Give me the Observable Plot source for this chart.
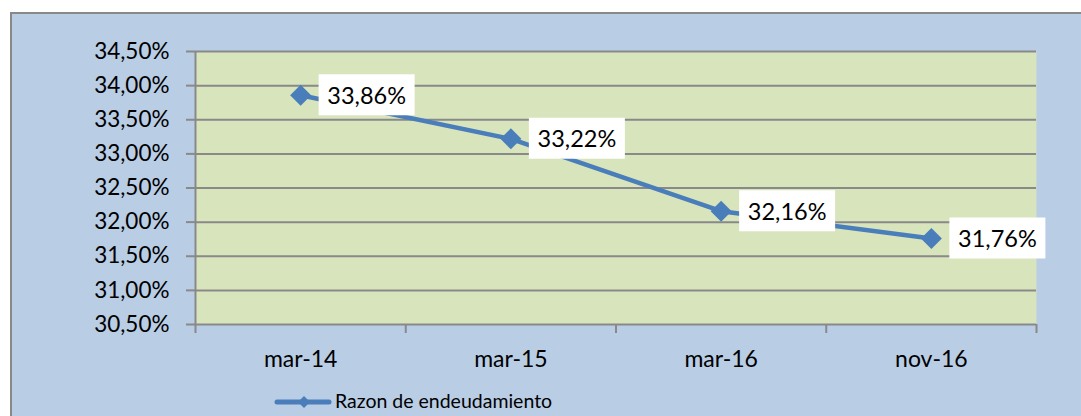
<!DOCTYPE html>
<html>
<head>
<meta charset="utf-8">
<script src="https://cdn.jsdelivr.net/npm/d3@7"></script>
<script src="https://cdn.jsdelivr.net/npm/@observablehq/plot@0.6"></script>
<style>
  html, body { margin: 0; padding: 0; background: #ffffff; width: 1081px; height: 416px; overflow: hidden; }
  #panel { position: absolute; left: 10px; top: 12px; width: 1090px; height: 430px; background: #B9CDE5; border: 2px solid #898989; box-sizing: border-box; }
  #chart { position: absolute; left: 0; top: 0; }
  #legend { position: absolute; left: 0; top: 0; }
</style>
</head>
<body>
<div id="panel"></div>
<div id="chart"></div>
<svg id="legend" width="1081" height="416">
  <line x1="277" x2="329" y1="402" y2="402" stroke="#4A7EBB" stroke-width="5" stroke-linecap="round"></line>
  <path d="M304,396 L310,402 L304,408 L298,402 Z" fill="#4A7EBB"></path>
  <text x="335" y="408" font-family="Lato" font-size="19.5" fill="#000">Razon de endeudamiento</text>
</svg>
<script>
const categories = ["mar-14", "mar-15", "mar-16", "nov-16"];
const values = [33.86, 33.22, 32.16, 31.76];
const valueLabels = ["33,86%", "33,22%", "32,16%", "31,76%"];
const yTicks = [30.5, 31.0, 31.5, 32.0, 32.5, 33.0, 33.5, 34.0, 34.5];
const yTickLabels = ["30,50%", "31,00%", "31,50%", "32,00%", "32,50%", "33,00%", "33,50%", "34,00%", "34,50%"];

const gray = "#898989";
const blue = "#4A7EBB";
const pos = (d, i) => i + 0.5;

const diamond = { draw(ctx) { const h = 10.5; ctx.moveTo(0, -h); ctx.lineTo(h, 0); ctx.lineTo(0, h); ctx.lineTo(-h, 0); ctx.closePath(); } };
const labelBox = { draw(ctx) { ctx.rect(18, -21, 96, 41); } };

const chart = Plot.plot({
  width: 1081,
  height: 416,
  marginLeft: 195,
  marginRight: 45,
  marginTop: 51,
  marginBottom: 92,
  style: { background: "transparent", fontFamily: "Lato", overflow: "visible" },
  x: { type: "linear", domain: [0, categories.length] },
  y: { domain: [30.5, 34.5] },
  marks: [
    Plot.frame({ fill: "#D8E4BC", stroke: null }),
    Plot.gridY(yTicks, { stroke: gray, strokeOpacity: 1, strokeWidth: 2 }),
    Plot.ruleX([0], { y1: 30.5, y2: 34.5, stroke: gray, strokeWidth: 2 }),
    Plot.axisY(yTicks, {
      tickSize: 9, tickPadding: 17, stroke: gray, strokeWidth: 2, fill: "#000", fontSize: 22.5,
      tickFormat: d => yTickLabels[yTicks.indexOf(d)]
    }),
    Plot.axisX(d3.range(categories.length + 1), {
      tickSize: 9, stroke: gray, strokeWidth: 2, tickFormat: () => ""
    }),
    Plot.axisX(categories.map(pos), {
      tickSize: 0, tickPadding: 26, fill: "#000", fontSize: 23,
      tickFormat: d => categories[Math.round(d - 0.5)]
    }),
    Plot.line(values, { x: pos, y: d => d, stroke: blue, strokeWidth: 4.5 }),
    Plot.dot(values, { x: pos, y: d => d, symbol: diamond, fill: blue, stroke: "none" }),
    Plot.dot(values, { x: pos, y: d => d, symbol: labelBox, fill: "#ffffff", stroke: "none" }),
    Plot.text(values, { x: pos, y: d => d, text: (d, i) => valueLabels[i], dx: 66, dy: 1, fontSize: 23.5, fill: "#000", textAnchor: "middle" })
  ]
});
document.getElementById("chart").appendChild(chart);
</script>
</body>
</html>
